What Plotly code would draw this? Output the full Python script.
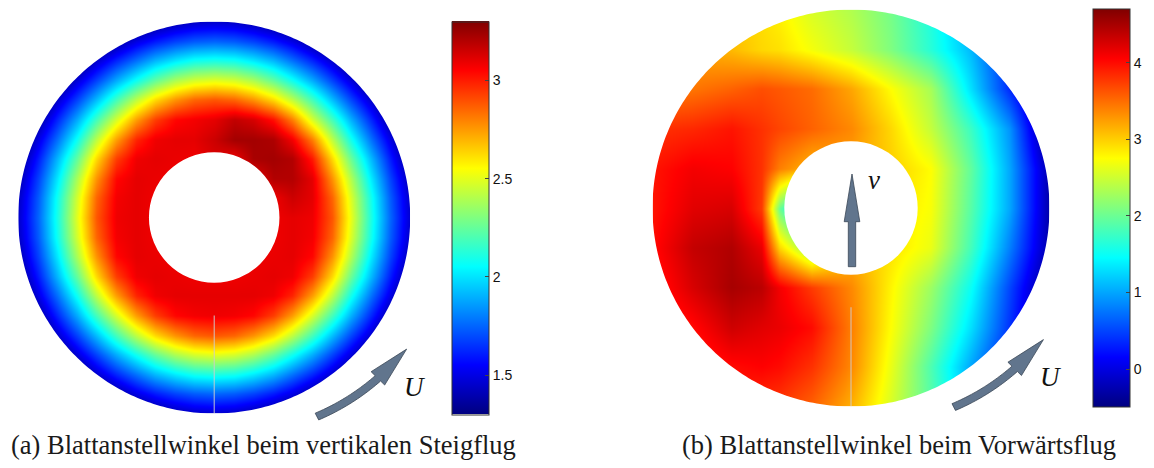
import numpy as np
import plotly.graph_objects as go

# The page puts the figure 8 px in from the window corner, so the figure is
# 16 px smaller than the window and all pixel positions below are window pixels.
OFF = 8
W, H = 1154 - 2 * OFF, 468 - 2 * OFF

# ---------------- data ----------------
# (a) vertical climb: blade pitch over the rotor disc (normalised coordinates, 0.1 grid)
A_X = [round(-1.0 + 0.1 * i, 1) for i in range(21)]
A_Y = [round(-1.0 + 0.1 * i, 1) for i in range(21)]
A_Z = [
    [0.22, 0.42, 0.61, 0.79, 0.95, 1.10, 1.22, 1.32, 1.39, 1.435, 1.45, 1.435, 1.39, 1.32, 1.22, 1.10, 0.95, 0.79, 0.61, 0.42, 0.22],
    [0.42, 0.63, 0.84, 1.03, 1.20, 1.36, 1.50, 1.60, 1.68, 1.73, 1.75, 1.73, 1.68, 1.60, 1.50, 1.36, 1.20, 1.03, 0.84, 0.63, 0.42],
    [0.61, 0.84, 1.06, 1.26, 1.45, 1.62, 1.77, 1.91, 2.01, 2.08, 2.10, 2.08, 2.01, 1.91, 1.77, 1.62, 1.45, 1.26, 1.06, 0.84, 0.61],
    [0.79, 1.03, 1.26, 1.48, 1.68, 1.89, 2.08, 2.25, 2.39, 2.47, 2.50, 2.47, 2.39, 2.25, 2.08, 1.89, 1.68, 1.48, 1.26, 1.03, 0.79],
    [0.95, 1.20, 1.45, 1.68, 1.92, 2.18, 2.42, 2.62, 2.76, 2.85, 2.88, 2.85, 2.76, 2.62, 2.42, 2.18, 1.92, 1.68, 1.45, 1.20, 0.95],
    [1.10, 1.36, 1.62, 1.89, 2.18, 2.47, 2.74, 2.93, 3.04, 3.07, 3.08, 3.07, 3.04, 2.93, 2.74, 2.47, 2.18, 1.89, 1.62, 1.36, 1.10],
    [1.22, 1.50, 1.77, 2.08, 2.42, 2.74, 2.98, 3.08, 3.10, 3.10, 3.10, 3.10, 3.10, 3.08, 2.98, 2.74, 2.42, 2.08, 1.77, 1.50, 1.22],
    [1.32, 1.60, 1.91, 2.25, 2.62, 2.93, 3.08, 3.10, 3.09, 3.08, 3.08, 3.08, 3.09, 3.10, 3.08, 2.93, 2.62, 2.25, 1.91, 1.60, 1.32],
    [1.39, 1.68, 2.01, 2.39, 2.76, 3.04, 3.10, 3.09, 3.08, 3.08, 3.08, 3.08, 3.08, 3.09, 3.10, 3.04, 2.76, 2.39, 2.01, 1.68, 1.39],
    [1.435, 1.73, 2.08, 2.47, 2.85, 3.07, 3.10, 3.08, 3.08, 3.08, 3.08, 3.08, 3.08, 3.08, 3.10, 3.07, 2.85, 2.47, 2.08, 1.73, 1.435],
    [1.45, 1.75, 2.10, 2.50, 2.88, 3.08, 3.10, 3.08, 3.08, 3.08, 3.08, 3.08, 3.08, 3.08, 3.10, 3.08, 2.88, 2.50, 2.10, 1.75, 1.45],
    [1.435, 1.73, 2.08, 2.47, 2.85, 3.07, 3.10, 3.08, 3.08, 3.08, 3.08, 3.08, 3.08, 3.08, 3.15, 3.10, 2.85, 2.47, 2.08, 1.73, 1.435],
    [1.39, 1.68, 2.01, 2.39, 2.76, 3.04, 3.10, 3.09, 3.08, 3.08, 3.08, 3.08, 3.08, 3.20, 3.20, 3.10, 2.76, 2.39, 2.01, 1.68, 1.39],
    [1.32, 1.60, 1.91, 2.25, 2.62, 2.93, 3.08, 3.10, 3.09, 3.08, 3.12, 3.08, 3.22, 3.23, 3.20, 3.00, 2.62, 2.25, 1.91, 1.60, 1.32],
    [1.22, 1.50, 1.77, 2.08, 2.42, 2.74, 2.98, 3.08, 3.10, 3.10, 3.15, 3.23, 3.23, 3.21, 3.07, 2.80, 2.42, 2.08, 1.77, 1.50, 1.22],
    [1.10, 1.36, 1.62, 1.89, 2.18, 2.47, 2.74, 2.93, 3.04, 3.07, 3.10, 3.17, 3.13, 3.02, 2.80, 2.47, 2.18, 1.89, 1.62, 1.36, 1.10],
    [0.95, 1.20, 1.45, 1.68, 1.92, 2.18, 2.42, 2.62, 2.76, 2.85, 2.88, 2.85, 2.76, 2.62, 2.42, 2.18, 1.92, 1.68, 1.45, 1.20, 0.95],
    [0.79, 1.03, 1.26, 1.48, 1.68, 1.89, 2.08, 2.25, 2.39, 2.47, 2.50, 2.47, 2.39, 2.25, 2.08, 1.89, 1.68, 1.48, 1.26, 1.03, 0.79],
    [0.61, 0.84, 1.06, 1.26, 1.45, 1.62, 1.77, 1.91, 2.01, 2.08, 2.10, 2.08, 2.01, 1.91, 1.77, 1.62, 1.45, 1.26, 1.06, 0.84, 0.61],
    [0.42, 0.63, 0.84, 1.03, 1.20, 1.36, 1.50, 1.60, 1.68, 1.73, 1.75, 1.73, 1.68, 1.60, 1.50, 1.36, 1.20, 1.03, 0.84, 0.63, 0.42],
    [0.22, 0.42, 0.61, 0.79, 0.95, 1.10, 1.22, 1.32, 1.39, 1.435, 1.45, 1.435, 1.39, 1.32, 1.22, 1.10, 0.95, 0.79, 0.61, 0.42, 0.22],
]
A_RANGE = [1.30, 3.30]
A_TICKS = [1.5, 2, 2.5, 3]
A_TICKTEXT = ["1.5", "2", "2.5", "3"]
A_HOLE = 0.333

# (b) forward flight
B_X = [-1.0, -0.8, -0.6, -0.45, -0.36, -0.2, 0.0, 0.2, 0.4, 0.6, 0.8, 1.0]
B_Y = [-1.0, -0.8, -0.6, -0.4, -0.2, 0.0, 0.2, 0.4, 0.6, 0.8, 1.0]
B_Z = [
    [3.70, 3.80, 3.90, 3.80, 3.75, 3.55, 3.15, 2.55, 1.90, 1.10, 0.30, -0.60],
    [3.70, 3.85, 4.00, 4.05, 4.00, 3.80, 3.35, 2.65, 1.85, 1.00, 0.20, -0.60],
    [3.80, 4.00, 4.30, 4.20, 4.15, 4.00, 3.40, 2.75, 2.10, 1.30, 0.40, -0.60],
    [3.90, 4.25, 4.50, 4.40, 4.10, 3.75, 3.35, 2.80, 2.25, 1.50, 0.50, -0.50],
    [4.00, 4.35, 4.45, 4.15, 2.95, 2.10, 3.10, 2.90, 2.65, 1.80, 0.80, -0.30],
    [3.95, 4.20, 4.25, 3.75, 2.00, 0.70, 2.90, 2.90, 2.72, 1.90, 1.00, -0.30],
    [3.95, 4.10, 4.05, 3.80, 3.40, 3.10, 3.20, 3.00, 2.75, 1.95, 1.00, -0.30],
    [3.80, 3.85, 3.95, 3.80, 3.70, 3.55, 3.35, 2.95, 2.45, 1.75, 0.90, -0.60],
    [3.40, 3.45, 3.55, 3.65, 3.60, 3.50, 3.20, 2.75, 2.30, 1.30, 0.35, -0.60],
    [3.30, 3.20, 3.10, 2.95, 2.90, 2.70, 2.45, 2.10, 1.65, 1.10, 0.30, -0.60],
    [3.20, 3.10, 3.00, 2.90, 2.80, 2.55, 2.35, 2.05, 1.60, 1.00, 0.20, -0.60],
]
B_RANGE = [-0.50, 4.70]
B_TICKS = [0, 1, 2, 3, 4]
B_TICKTEXT = ["0", "1", "2", "3", "4"]
B_HOLE = 0.336

CAPTION_A = "(a) Blattanstellwinkel beim vertikalen Steigflug"
CAPTION_B = "(b) Blattanstellwinkel beim Vorwärtsflug"

JET = [[0.0, "#000080"], [0.125, "#0000ff"], [0.375, "#00ffff"],
       [0.625, "#ffff00"], [0.875, "#ff0000"], [1.0, "#800000"]]

# ---------------- geometry (window pixels) ----------------
A_C, A_R = (214.2, 217.5), 196.0
B_C, B_R = (851.0, 208.0), 198.5
CB_A = dict(x0=452.3, top=21.7, bottom=414.3)
CB_B = dict(x0=1093.3, top=9.3, bottom=407.3)


def px(x, y):
    return (x - OFF) / W, 1 - (y - OFF) / H


def colorbar(cb, ticks, ticktext):
    return dict(
        x=(cb["x0"] - OFF) / W, xanchor="left", xpad=0,
        y=1 - ((cb["top"] + cb["bottom"]) / 2 - OFF) / H, yanchor="middle", ypad=0,
        len=cb["bottom"] - cb["top"], lenmode="pixels",
        thickness=37, thicknessmode="pixels",
        outlinewidth=1, outlinecolor="#333333",
        tickvals=ticks, ticktext=ticktext,
        ticks="inside", ticklen=4, tickwidth=1, tickcolor="#444444",
        tickfont=dict(family="Liberation Sans, Arial, sans-serif", size=14, color="#111111"),
    )


fig = go.Figure()
fig.add_trace(go.Heatmap(
    x=A_X, y=A_Y, z=A_Z, zsmooth="best", colorscale=JET,
    zmin=A_RANGE[0], zmax=A_RANGE[1], xaxis="x", yaxis="y",
    hoverinfo="skip", colorbar=colorbar(CB_A, A_TICKS, A_TICKTEXT)))
fig.add_trace(go.Heatmap(
    x=B_X, y=B_Y, z=B_Z, zsmooth="best", colorscale=JET,
    zmin=B_RANGE[0], zmax=B_RANGE[1], xaxis="x2", yaxis="y2",
    hoverinfo="skip", colorbar=colorbar(CB_B, B_TICKS, B_TICKTEXT)))


def domain(c, r):
    x0, y1 = px(c[0] - r, c[1] - r)
    x1, y0 = px(c[0] + r, c[1] + r)
    return [x0, x1], [y0, y1]


axa = dict(visible=False, range=[-1, 1], fixedrange=True)
dxa, dya = domain(A_C, A_R)
dxb, dyb = domain(B_C, B_R)


def poly(pts, close=True):
    s = []
    for i, (x, y) in enumerate(pts):
        X, Y = px(x, y)
        s.append(("M" if i == 0 else "L") + f"{X:.6f},{Y:.6f}")
    return " ".join(s) + (" Z" if close else "")


def outer_mask(c, r, pad=6):
    cx, cy = c
    rect = [(cx - r - pad, cy - r - pad), (cx + r + pad, cy - r - pad),
            (cx + r + pad, cy + r + pad), (cx - r - pad, cy + r + pad)]
    th = np.linspace(0, 2 * np.pi, 361)
    ring = [(cx + r * np.cos(t), cy + r * np.sin(t)) for t in th[::-1]]
    return poly(rect) + " " + poly(ring)


shapes = []
for xr, yr, hole in (("x", "y", A_HOLE), ("x2", "y2", B_HOLE)):
    # seam line of the surface mesh
    shapes.append(dict(type="line", xref=xr, yref=yr, x0=0, x1=0, y0=-0.5, y1=-1.0,
                       line=dict(color="rgba(205,205,205,0.95)", width=1), layer="above"))
    shapes.append(dict(type="circle", xref=xr, yref=yr, x0=-hole, x1=hole, y0=-hole, y1=hole,
                       fillcolor="white", line=dict(width=0), layer="above"))
for c, r in ((A_C, A_R), (B_C, B_R)):
    shapes.append(dict(type="path", xref="paper", yref="paper", path=outer_mask(c, r),
                       fillrule="evenodd", fillcolor="white", line=dict(width=0), layer="above"))


def arc_arrow(c, t0=62.7, t1=44.5, r0=224.0, r1=229.5, hw=3.8, hh=9.5, hl=41.0):
    cx, cy = c
    pts = []
    ts = np.linspace(t0, t1, 24)
    rs = np.linspace(r0, r1, 24)
    for t, r in zip(ts, rs):
        a = np.radians(t)
        pts.append((cx + (r + hw) * np.cos(a), cy + (r + hw) * np.sin(a)))
    a = np.radians(t1)
    n = np.array([np.cos(a), np.sin(a)])
    tv = np.array([np.sin(a), -np.cos(a)])
    b = np.array([cx, cy]) + r1 * n
    pts.append(tuple(b + n * hh))
    pts.append(tuple(b + tv * hl))
    pts.append(tuple(b - n * hh))
    for t, r in zip(ts[::-1], rs[::-1]):
        a = np.radians(t)
        pts.append((cx + (r - hw) * np.cos(a), cy + (r - hw) * np.sin(a)))
    return poly(pts)


ARROW_FILL = "#61758d"
ARROW_LINE = "#3b4757"
for c in (A_C, B_C):
    shapes.append(dict(type="path", xref="paper", yref="paper", path=arc_arrow(c),
                       fillcolor=ARROW_FILL, line=dict(color=ARROW_LINE, width=0.8), layer="above"))

# upward arrow v in the hub of (b)
vx = 852.0
v_pts = [(vx - 3.7, 266.7), (vx - 3.7, 221.7), (vx - 7.8, 221.7), (vx, 174.0),
         (vx + 7.8, 221.7), (vx + 3.7, 221.7), (vx + 3.7, 266.7)]
shapes.append(dict(type="path", xref="paper", yref="paper", path=poly(v_pts),
                   fillcolor=ARROW_FILL, line=dict(color=ARROW_LINE, width=0.8), layer="above"))

serif = "Liberation Serif, Times New Roman, serif"
ann = []
for (x, y) in ((415, 387), (1050, 377)):
    X, Y = px(x, y)
    ann.append(dict(x=X, y=Y, xref="paper", yref="paper", text="<i>U</i>", showarrow=False,
                    xanchor="center", yanchor="middle", font=dict(family=serif, size=27, color="#111")))
X, Y = px(874, 180)
ann.append(dict(x=X, y=Y, xref="paper", yref="paper", text="<i>v</i>", showarrow=False,
                xanchor="center", yanchor="middle", font=dict(family=serif, size=27, color="#111")))
for text, x in ((CAPTION_A, 264), (CAPTION_B, 899)):
    X, Y = px(x, 445)
    ann.append(dict(x=X, y=Y, xref="paper", yref="paper", text=text, showarrow=False,
                    xanchor="center", yanchor="middle", borderpad=0,
                    font=dict(family=serif, size=26.5, color="#1a1a1a")))

fig.update_layout(
    width=W, height=H, margin=dict(l=0, r=0, t=0, b=0, autoexpand=False),
    paper_bgcolor="white", plot_bgcolor="white", showlegend=False,
    xaxis=dict(axa, domain=dxa), yaxis=dict(axa, domain=dya),
    xaxis2=dict(axa, domain=dxb), yaxis2=dict(axa, domain=dyb),
    shapes=shapes, annotations=ann,
)
fig.write_html("out.html")
